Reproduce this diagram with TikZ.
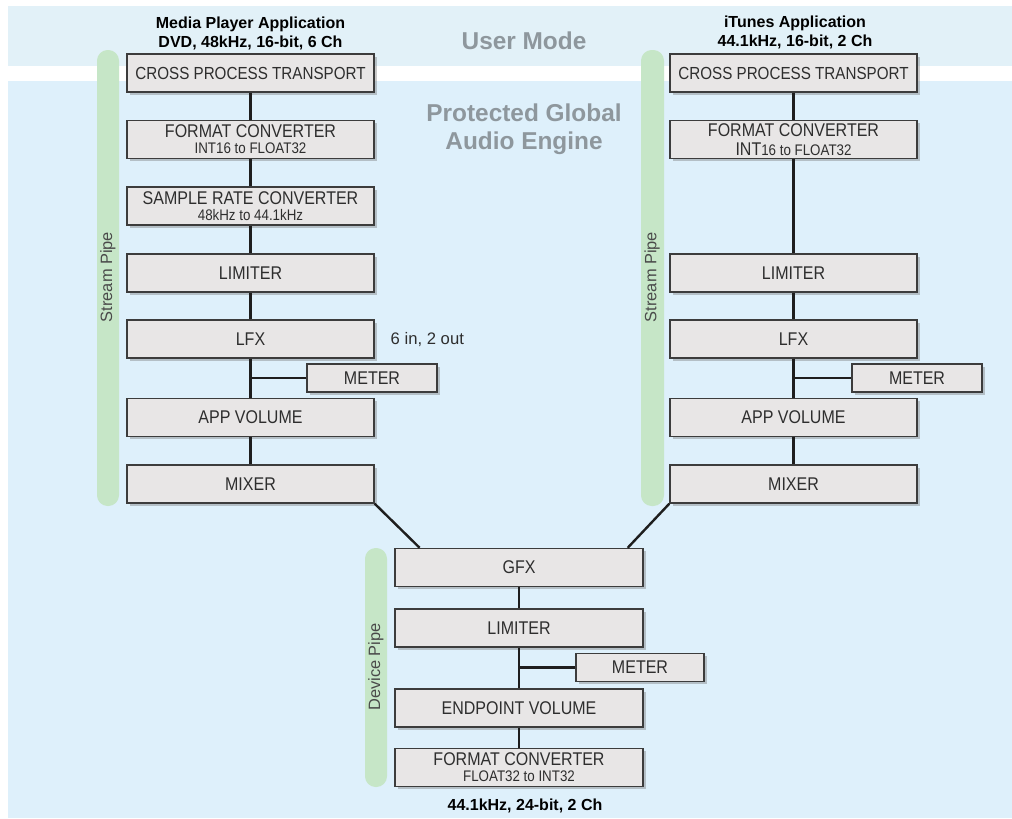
\documentclass[tikz,border=0pt]{standalone}
\usepackage{fontspec}
\setmainfont{Liberation Sans}
\newfontfamily\boxfont[FakeStretch=0.87]{Liberation Sans}
\usetikzlibrary{shadows}

\definecolor{bgblue}{HTML}{DEF0FB}
\definecolor{bgtop}{HTML}{E2F1F8}
\definecolor{pipegreen}{HTML}{C6E6C7}
\definecolor{boxfill}{HTML}{E8E6E6}
\definecolor{boxline}{HTML}{3C3C3C}
\definecolor{wire}{HTML}{1E1E1E}
\definecolor{modegray}{HTML}{8E979D}
\definecolor{pipetext}{HTML}{4A4A4A}
\definecolor{stagetext}{HTML}{2E2E2E}

\begin{document}
\begin{tikzpicture}[x=0.75pt, y=-0.75pt,
  stage/.style={draw=boxline, line width=1.1pt, fill=boxfill, inner sep=0pt,
    minimum height=28.5pt, align=center, text=stagetext,
    font=\boxfont\fontsize{13.8}{14}\selectfont,
    drop shadow={shadow xshift=2pt, shadow yshift=-2pt, opacity=0.35, fill=black!60}},
  colbox/.style={stage, minimum width=185.25pt},
  devbox/.style={stage, minimum width=186pt},
  meterbox/.style={stage, minimum width=97.5pt, minimum height=21pt},
  wireline/.style={draw=wire, line width=1.8pt},
  pipebar/.style={fill=pipegreen, rounded corners=8pt},
  pipelabel/.style={rotate=90, text=pipetext, font=\fontsize{12.3}{13}\selectfont},
  apptitle/.style={align=center, font=\bfseries\fontsize{12}{14.3}\selectfont},
  modelabel/.style={align=center, text=modegray, font=\bfseries\fontsize{18.3}{21}\selectfont}]

\useasboundingbox (0,0) rectangle (1012,818);

% backdrop: user-mode strip, separating band, engine area
\fill[white] (0,0) rectangle (1012,818);
\fill[bgblue] (8,6) rectangle (1012,818);
\fill[bgtop] (8,6) rectangle (1012,66);
\fill[white] (8,66) rectangle (1012,81);

% mode labels
\node[modelabel] (usermode) at (524,41) {User Mode};
\node[modelabel] (engine) at (524,129) {Protected Global\\Audio Engine};

% pipe bars
\fill[pipebar] (97,50) rectangle (119,506);
\fill[pipebar] (641,50) rectangle (664,506);
\fill[pipebar] (365,548) rectangle (387,787);
\node[pipelabel] (lpipe) at (108,277) {Stream Pipe};
\node[pipelabel] (rpipe) at (652,277) {Stream Pipe};
\node[pipelabel] (dpipe) at (376,667) {Device Pipe};

% application headers
\node[apptitle] (ltitle) at (250.5,33) {Media Player Application\\DVD, 48kHz, 16-bit, 6 Ch};
\node[apptitle] (rtitle) at (795,32) {iTunes Application\\44.1kHz, 16-bit, 2 Ch};

% left stream pipe
\node[colbox, font=\boxfont\fontsize{13.1}{14}\selectfont] (lcpt) at (250.5,73) {CROSS PROCESS TRANSPORT};
\node[colbox] (lfc) at (250.5,139.5) {FORMAT CONVERTER\\[-2pt]{\fontsize{11.5}{11.5}\selectfont INT16 to FLOAT32}};
\node[colbox] (lsrc) at (250.5,206) {SAMPLE RATE CONVERTER\\[-2pt]{\fontsize{11.5}{11.5}\selectfont 48kHz to 44.1kHz}};
\node[colbox] (llim) at (250.5,273) {LIMITER};
\node[colbox] (llfx) at (250.5,339) {LFX};
\node[meterbox] (lmeter) at (372,378) {METER};
\node[colbox] (lvol) at (250.5,417.5) {APP VOLUME};
\node[colbox] (lmix) at (250.5,484) {MIXER};
\node[font=\fontsize{12.5}{13}\selectfont, text=stagetext, anchor=west] (lfxnote) at (386,340) {6 in, 2 out};

% right stream pipe
\node[colbox, font=\boxfont\fontsize{13.1}{14}\selectfont] (rcpt) at (793.5,73) {CROSS PROCESS TRANSPORT};
\node[colbox] (rfc) at (793.5,139.5) {FORMAT CONVERTER\\[0pt]INT{\fontsize{11.5}{11.5}\selectfont 16 to FLOAT32}};
\node[colbox] (rlim) at (793.5,273) {LIMITER};
\node[colbox] (rlfx) at (793.5,339) {LFX};
\node[meterbox] (rmeter) at (917,378) {METER};
\node[colbox] (rvol) at (793.5,417.5) {APP VOLUME};
\node[colbox] (rmix) at (793.5,484) {MIXER};

% device pipe
\node[devbox] (gfx) at (519,567.5) {GFX};
\node[devbox] (dlim) at (519,628) {LIMITER};
\node[meterbox, minimum width=96pt] (dmeter) at (640,667.5) {METER};
\node[devbox] (dvol) at (519,708) {ENDPOINT VOLUME};
\node[devbox] (dfc) at (519,767.5) {FORMAT CONVERTER\\[-2pt]{\fontsize{11.5}{11.5}\selectfont FLOAT32 to INT32}};
\node[apptitle] (dtitle) at (525,806) {44.1kHz, 24-bit, 2 Ch};

% branch points toward the meters and the mixer inlets on GFX
\coordinate (ltap) at (lmeter.west -| llfx.south);
\coordinate (rtap) at (rmeter.west -| rlfx.south);
\coordinate (dtap) at (dmeter.west -| dlim.south);
\coordinate (gin) at ([xshift=19pt]gfx.north west);
\coordinate (gout) at ([xshift=-12pt]gfx.north east);

% connectors
\draw[wireline] (lcpt) -- (lfc);
\draw[wireline] (lfc) -- (lsrc);
\draw[wireline] (lsrc) -- (llim);
\draw[wireline] (llim) -- (llfx);
\draw[wireline] (llfx) -- (lvol);
\draw[wireline] (ltap) -- (lmeter.west);
\draw[wireline] (lvol) -- (lmix);

\draw[wireline] (rcpt) -- (rfc);
\draw[wireline] (rfc) -- (rlim);
\draw[wireline] (rlim) -- (rlfx);
\draw[wireline] (rlfx) -- (rvol);
\draw[wireline] (rtap) -- (rmeter.west);
\draw[wireline] (rvol) -- (rmix);

\draw[wireline] (lmix.south east) -- (gin);
\draw[wireline] (rmix.south west) -- (gout);
\draw[wireline] (gfx) -- (dlim);
\draw[wireline] (dlim) -- (dvol);
\draw[wireline] (dtap) -- (dmeter.west);
\draw[wireline] (dvol) -- (dfc);

\end{tikzpicture}
\end{document}
